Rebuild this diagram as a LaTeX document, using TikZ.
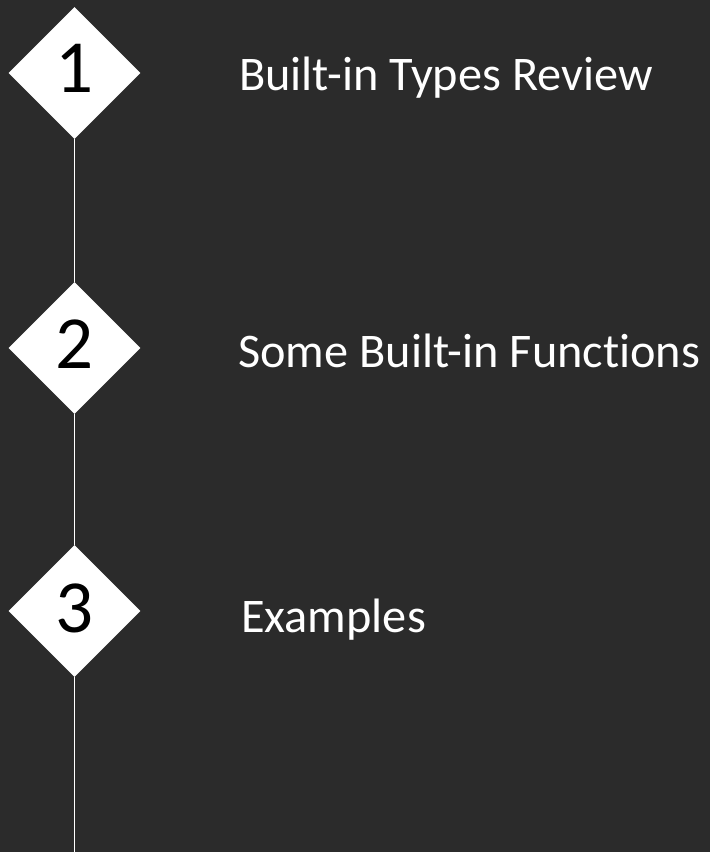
\documentclass[tikz,border=0pt]{standalone}
\usepackage{fontspec}
\setmainfont{Carlito}[Ligatures={NoCommon}]
\usetikzlibrary{shapes.geometric}
\definecolor{bgdark}{HTML}{2B2B2B}
\begin{document}
\begin{tikzpicture}[x=1pt,y=-1pt,
  stepmark/.style={shape=diamond,fill=white,draw=none,inner sep=0pt,minimum width=132pt,minimum height=132pt},
  stepnum/.style={anchor=base,inner sep=0pt,text=black,font=\fontsize{75}{75}\selectfont},
  steptext/.style={anchor=base west,inner sep=0pt,text=white,font=\fontsize{48.3}{48}\selectfont},
  timeline/.style={draw=white,line width=1.3pt}]
\fill[bgdark] (0,0) rectangle (710,852);
\useasboundingbox (0,0) rectangle (710,852);
\node[stepmark] (d1) at (74.5,73) {};
\node[stepmark] (d2) at (74.5,348) {};
\node[stepmark] (d3) at (74.5,611) {};
\coordinate (end) at (74.5,852);
\draw[timeline] (d1.south) -- (d2.north);
\draw[timeline] (d2.south) -- (d3.north);
\draw[timeline] (d3.south) -- (end);
\node[stepnum] (n1) at (75,92) {1};
\node[stepnum] (n2) at (74.5,368) {2};
\node[stepnum] (n3) at (74.5,632) {3};
\node[steptext] (t1) at (239,90) {Built-in Types Review};
\node[steptext] (t2) at (238,367) {Some Built-in Functions};
\node[steptext] (t3) at (241,632) {Examples};
\end{tikzpicture}
\end{document}
